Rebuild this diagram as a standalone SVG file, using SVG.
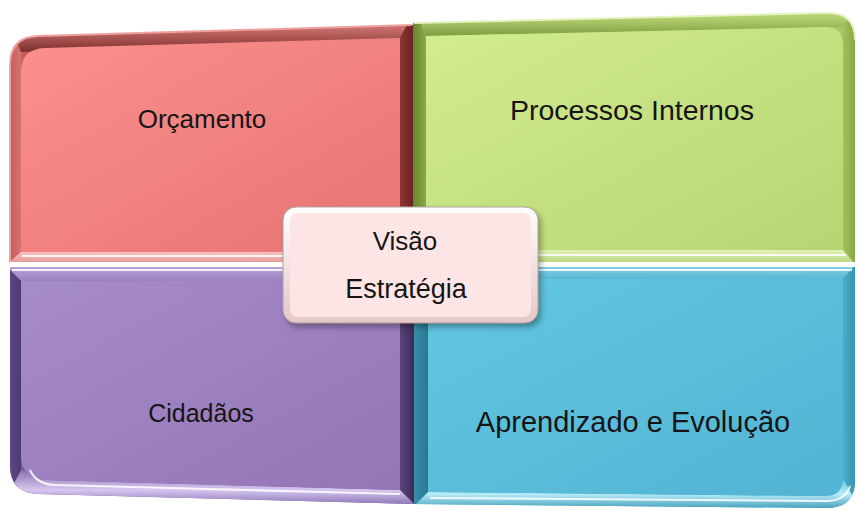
<svg xmlns="http://www.w3.org/2000/svg" width="857" height="511" viewBox="0 0 857 511">
  <defs>
    <linearGradient id="gRed" x1="0" y1="0" x2="1" y2="1">
      <stop offset="0" stop-color="#fb908d"/>
      <stop offset="1" stop-color="#e67473"/>
    </linearGradient>
    <linearGradient id="gGreen" x1="0" y1="0" x2="1" y2="1">
      <stop offset="0" stop-color="#d2ec8e"/>
      <stop offset="1" stop-color="#b8d474"/>
    </linearGradient>
    <linearGradient id="gPurple" x1="0" y1="0" x2="1" y2="1">
      <stop offset="0" stop-color="#a68bca"/>
      <stop offset="1" stop-color="#9475b6"/>
    </linearGradient>
    <linearGradient id="gCyan" x1="0" y1="0" x2="1" y2="1">
      <stop offset="0" stop-color="#62c8e2"/>
      <stop offset="1" stop-color="#52b3d2"/>
    </linearGradient>
    <linearGradient id="gCenter" x1="0" y1="0" x2="0" y2="1">
      <stop offset="0" stop-color="#ffffff"/>
      <stop offset="1" stop-color="#e6c6c6"/>
    </linearGradient>
    <!-- band gradients: V = top-to-bottom, H = left-to-right -->
    <linearGradient id="rTop" x1="0" y1="0" x2="0" y2="1"><stop offset="0.55" stop-color="#c86e6c"/><stop offset="1" stop-color="#7c2e2c"/></linearGradient>
    <linearGradient id="rRight" x1="0" y1="0" x2="1" y2="0"><stop offset="0" stop-color="#8e3634"/><stop offset="1" stop-color="#561818"/></linearGradient>
    <linearGradient id="rBot" x1="0" y1="0" x2="0" y2="1"><stop offset="0" stop-color="#f9c2c0"/><stop offset="1" stop-color="#d47e7c"/></linearGradient>
    <linearGradient id="rLeft" x1="0" y1="0" x2="1" y2="0"><stop offset="0" stop-color="#b24c4a"/><stop offset="1" stop-color="#d87270"/></linearGradient>

    <linearGradient id="gTopB" x1="0" y1="0" x2="0" y2="1"><stop offset="0.5" stop-color="#b4d070"/><stop offset="1" stop-color="#7e9c42"/></linearGradient>
    <linearGradient id="gRightB" x1="0" y1="0" x2="1" y2="0"><stop offset="0" stop-color="#a2c25e"/><stop offset="1" stop-color="#7c9c3c"/></linearGradient>
    <linearGradient id="gBotB" x1="0" y1="0" x2="0" y2="1"><stop offset="0" stop-color="#e2f2b8"/><stop offset="1" stop-color="#a6c460"/></linearGradient>
    <linearGradient id="gLeftB" x1="0" y1="0" x2="1" y2="0"><stop offset="0" stop-color="#5e7e2a"/><stop offset="1" stop-color="#8aaa48"/></linearGradient>

    <linearGradient id="pTop" x1="0" y1="0" x2="0" y2="1"><stop offset="0" stop-color="#cbb8e6"/><stop offset="1" stop-color="#9a80c0"/></linearGradient>
    <linearGradient id="pRight" x1="0" y1="0" x2="1" y2="0"><stop offset="0" stop-color="#5a4480"/><stop offset="1" stop-color="#2e2040"/></linearGradient>
    <linearGradient id="pBot" x1="0" y1="0" x2="0" y2="1"><stop offset="0" stop-color="#8a70b0"/><stop offset="0.5" stop-color="#d6c6f0"/><stop offset="1" stop-color="#7058a0"/></linearGradient>
    <linearGradient id="pLeft" x1="0" y1="0" x2="1" y2="0"><stop offset="0" stop-color="#6c5496"/><stop offset="1" stop-color="#4e3a72"/></linearGradient>

    <linearGradient id="cTopB" x1="0" y1="0" x2="0" y2="1"><stop offset="0" stop-color="#a0dcee"/><stop offset="1" stop-color="#58b8d4"/></linearGradient>
    <linearGradient id="cRightB" x1="0" y1="0" x2="1" y2="0"><stop offset="0" stop-color="#4aaecb"/><stop offset="1" stop-color="#2e8aa6"/></linearGradient>
    <linearGradient id="cBotB" x1="0" y1="0" x2="0" y2="1"><stop offset="0" stop-color="#5cc0dc"/><stop offset="0.5" stop-color="#b8ecf8"/><stop offset="1" stop-color="#3a98b6"/></linearGradient>
    <linearGradient id="cLeftB" x1="0" y1="0" x2="1" y2="0"><stop offset="0" stop-color="#3a96b0"/><stop offset="1" stop-color="#2a7890"/></linearGradient>

    <filter id="sh" x="-10%" y="-10%" width="130%" height="140%">
      <feGaussianBlur stdDeviation="3"/>
    </filter>
    <clipPath id="cRed"><path d="M10,262 L10,65 Q10,37 38,36 L413,25 L413,262 Z"/></clipPath>
    <clipPath id="cGreen"><path d="M413,23 L827,13 Q855,12 855,40 L855,262 L413,262 Z"/></clipPath>
    <clipPath id="cPurple"><path d="M10,267 L414,267 L414,504 L38,494 Q10,493 10,465 Z"/></clipPath>
    <clipPath id="cCyan"><path d="M414,267 L855,267 L855,480 Q855,508 827,508 L414,504 Z"/></clipPath>
  </defs>
  <style>
    .lbl { font-family: "Liberation Sans", Arial, sans-serif; fill: #151515; text-anchor: middle; }
    .hl { fill: none; stroke: #ffffff; stroke-opacity: 0.85; stroke-width: 2; }
  </style>

  <g id="orcamento">
    <g clip-path="url(#cRed)">
      <rect x="0" y="0" width="420" height="270" fill="#c55e5c"/>
      <polygon points="0,0 21,52 21,252 0,270" fill="url(#rLeft)"/>
      <polygon points="0,0 420,0 400,38 21,52" fill="url(#rTop)"/>
      <polygon points="420,0 420,270 400,252 400,38" fill="url(#rRight)"/>
      <polygon points="0,270 420,270 400,252 21,252" fill="url(#rBot)"/>
    </g>
    <path d="M10,262 L10,65 Q10,37 38,36 L412,25" fill="none" stroke="#eea2a0" stroke-width="2"/>
    <path d="M21,252 L21,72 Q21,49 45,48 L400,38 L400,252 Z" fill="url(#gRed)"/>
    <line x1="22" y1="256" x2="404" y2="256" class="hl"/>
    <text class="lbl" x="202" y="128" font-size="26">Orçamento</text>
  </g>

  <g id="processos-internos">
    <g clip-path="url(#cGreen)">
      <rect x="410" y="0" width="450" height="270" fill="#a8c863"/>
      <polygon points="410,0 860,0 843,27 426,36" fill="url(#gTopB)"/>
      <polygon points="410,0 426,36 426,250 410,270" fill="url(#gLeftB)"/>
      <polygon points="860,0 860,270 843,250 843,27" fill="url(#gRightB)"/>
      <polygon points="410,270 860,270 843,250 426,250" fill="url(#gBotB)"/>
    </g>
    <path d="M414,23 L827,13 Q855,12 855,40" fill="none" stroke="#e4f2c0" stroke-width="2"/>
    <path d="M426,36 L825,27 Q843,27 843,45 L843,250 L426,250 Z" fill="url(#gGreen)"/>
    <line x1="428" y1="255" x2="846" y2="255" class="hl"/>
    <text class="lbl" x="632" y="120" font-size="28.5">Processos Internos</text>
  </g>

  <g id="cidadaos">
    <g clip-path="url(#cPurple)">
      <rect x="0" y="260" width="420" height="250" fill="#7a62a0"/>
      <polygon points="0,260 420,260 400,281 21,281" fill="url(#pTop)"/>
      <polygon points="0,260 21,281 21,480 0,510" fill="url(#pLeft)"/>
      <polygon points="420,260 420,510 400,490 400,281" fill="url(#pRight)"/>
      <polygon points="0,510 420,510 400,490 45,480 21,470" fill="url(#pBot)"/>
    </g>
    <line x1="12" y1="270" x2="410" y2="270" class="hl"/>
    <path d="M21,281 L400,281 L400,490 L47,480 Q21,479 21,455 Z" fill="url(#gPurple)"/>
    <path d="M30,470 Q36,484 55,485 L400,494" class="hl"/>
    <text class="lbl" x="201" y="422" font-size="25">Cidadãos</text>
  </g>

  <g id="aprendizado-evolucao">
    <g clip-path="url(#cCyan)">
      <rect x="410" y="260" width="450" height="250" fill="#3ea6c4"/>
      <polygon points="410,260 860,260 843,279 428,279" fill="url(#cTopB)"/>
      <polygon points="410,260 428,279 428,492 410,510" fill="url(#cLeftB)"/>
      <polygon points="860,260 860,510 843,478 843,279" fill="url(#cRightB)"/>
      <polygon points="410,510 860,510 843,478 825,496 428,492" fill="url(#cBotB)"/>
    </g>
    <line x1="417" y1="270" x2="852" y2="270" class="hl"/>
    <path d="M428,279 L843,279 L843,478 Q843,496 825,496 L428,492 Z" fill="url(#gCyan)"/>
    <path d="M430,498 L828,501 Q846,500 850,486" class="hl"/>
    <text class="lbl" x="633" y="432" font-size="29">Aprendizado e Evolução</text>
  </g>

  <g id="visao-estrategia">
    <rect x="286" y="211" width="255" height="116" rx="13" fill="#000000" fill-opacity="0.35" filter="url(#sh)"/>
    <rect x="283" y="207" width="255" height="116" rx="13" fill="url(#gCenter)" stroke="#b8a0a0" stroke-width="1"/>
    <rect x="290" y="213" width="241" height="104" rx="8" fill="#fde5e5"/>
    <text class="lbl" x="405" y="250" font-size="26">Visão</text>
    <text class="lbl" x="406" y="298" font-size="27">Estratégia</text>
  </g>

  <g id="connectors"></g>
</svg>
